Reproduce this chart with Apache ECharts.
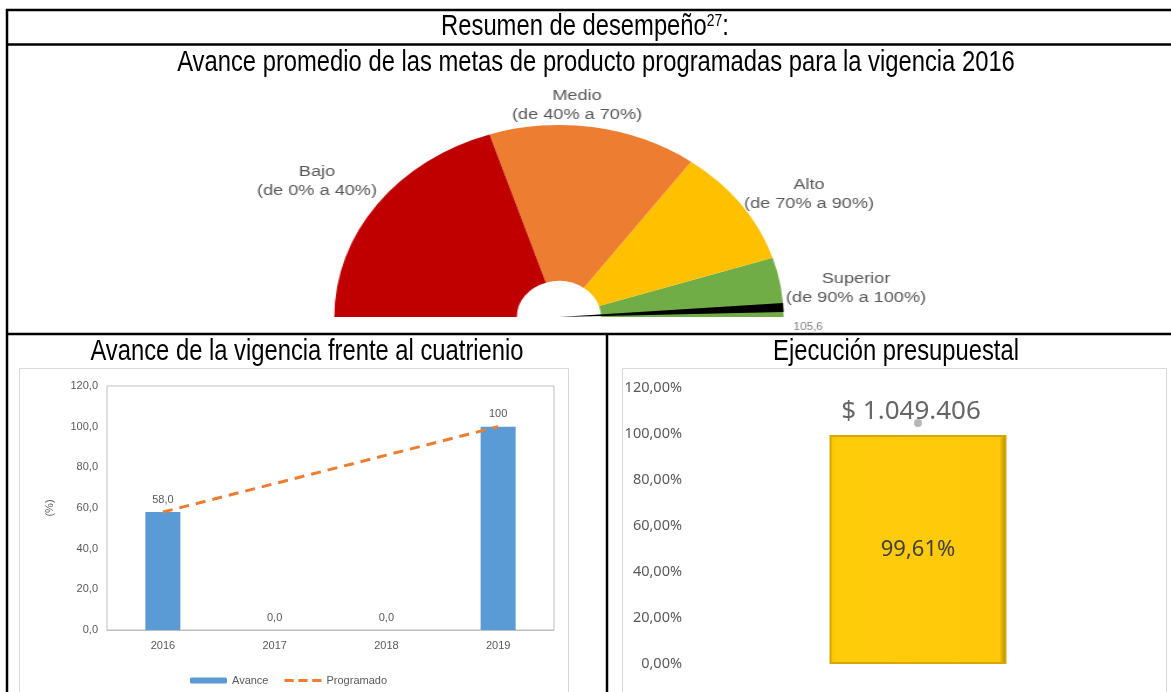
<!DOCTYPE html>
<html>
<head>
<meta charset="utf-8">
<script src="https://cdn.jsdelivr.net/npm/echarts@6/dist/echarts.min.js"></script>
<style>
  html, body { margin: 0; padding: 0; background: #fff; overflow: hidden; }
  #main { position: absolute; left: 0; top: 0; width: 1171px; height: 692px; }
  /* the source gauge is a stretched picture, so the gauge is stretched too */
  #gauge { position: absolute; left: 240px; top: 70px; width: 620px; height: 270px;
           transform: scaleX(1.17); transform-origin: 0 0; }
</style>
</head>
<body>
<div id="main"></div>
<div id="gauge"></div>
<script>
// --- gauge data
var bandNames = ['Bajo', 'Medio', 'Alto', 'Superior'];
var bandRanges = ['(de 0% a 40%)', '(de 40% a 70%)', '(de 70% a 90%)', '(de 90% a 100%)'];
var bandLimits = [40, 70, 90, 100];
var bandColors = ['#c00000', '#ed7d31', '#ffc000', '#70ad47'];
var needleValue = 105.6;
var needleScaleMax = 107.3; // needle scale of the source picture

// --- avance vigencia / cuatrienio
var years = ['2016', '2017', '2018', '2019'];
var avance = [58, 0, 0, 100];
var avanceLabels = ['58,0', '0,0', '0,0', '100'];
var programado = [58, 72, 86, 100];

// --- ejecucion presupuestal
var budgetCategory = ['Ejecución'];
var budgetPct = [99.61];
var budgetAmountLevel = [104.8];
var budgetAmountLabel = ['$ 1.049.406'];

var gray = '#595959';

function titleText(x, y, text) {
    return {
        type: 'text', x: x, y: y, scaleX: 0.82,
        style: {
            text: text, fontSize: 29, fontFamily: 'Liberation Sans', fill: '#000',
            align: 'center', verticalAlign: 'middle',
            rich: { s: { fontSize: 17, fontFamily: 'Liberation Sans', fill: '#000', verticalAlign: 'top' } }
        }
    };
}
function hLine(y, x1, x2) {
    return { type: 'line', shape: { x1: x1, y1: y, x2: x2, y2: y }, style: { stroke: '#000', lineWidth: 2.5 } };
}
function vLine(x, y1, y2) {
    return { type: 'line', shape: { x1: x, y1: y1, x2: x, y2: y2 }, style: { stroke: '#000', lineWidth: 2.5 } };
}

var main = echarts.init(document.getElementById('main'));
main.setOption({
    animation: false,
    textStyle: { fontFamily: 'Liberation Sans' },
    graphic: [
        hLine(10, 6, 1171), hLine(44.5, 6, 1171), hLine(334, 6, 1171),
        vLine(7, 9, 692), vLine(607, 333, 692),
        { type: 'rect', shape: { x: 19.5, y: 368.5, width: 549, height: 400 }, style: { fill: 'none', stroke: '#d9d9d9', lineWidth: 1 } },
        { type: 'rect', shape: { x: 622.5, y: 368.5, width: 544, height: 400 }, style: { fill: 'none', stroke: '#d9d9d9', lineWidth: 1 } },
        titleText(585, 27, 'Resumen de desempeño{s|27}:'),
        titleText(596, 63, 'Avance promedio de las metas de producto programadas para la vigencia 2016'),
        titleText(307, 352, 'Avance de la vigencia frente al cuatrienio'),
        titleText(896, 352, 'Ejecución presupuestal')
    ],
    legend: {
        data: [
            { name: 'Avance' },
            { name: 'Programado', icon: 'path://M0,0 H10 V3 H0 Z M15,0 H25 V3 H15 Z M30,0 H40 V3 H30 Z' }
        ],
        left: 185, top: 670,
        itemWidth: 37, itemHeight: 6, itemGap: 16,
        textStyle: { color: gray, fontSize: 11 }
    },
    grid: [
        { left: 107, top: 386, right: 617, bottom: 62, show: true, borderColor: '#bfbfbf', borderWidth: 1 },
        { left: 690, top: 388, right: 25, bottom: 28 }
    ],
    xAxis: [
        { gridIndex: 0, type: 'category', data: years, axisTick: { show: false },
          axisLine: { lineStyle: { color: '#bfbfbf' } },
          axisLabel: { color: gray, fontSize: 11, margin: 10 } },
        { gridIndex: 1, type: 'category', data: budgetCategory, show: false }
    ],
    yAxis: [
        { gridIndex: 0, type: 'value', min: 0, max: 120, interval: 20,
          name: '(%)', nameLocation: 'middle', nameGap: 52, nameRotate: 90,
          nameTextStyle: { color: gray, fontSize: 11 },
          axisLine: { show: false }, axisTick: { show: false }, splitLine: { show: false },
          axisLabel: { color: gray, fontSize: 11, margin: 9,
                       formatter: function (v) { return v.toFixed(1).replace('.', ','); } } },
        { gridIndex: 1, type: 'value', min: 0, max: 120, interval: 20,
          axisLine: { show: false }, axisTick: { show: false }, splitLine: { show: false },
          axisLabel: { color: gray, fontSize: 14.5, fontFamily: 'Noto Sans', margin: 8,
                       formatter: function (v) { return v.toFixed(2).replace('.', ',') + '%'; } } }
    ],
    series: [
        {
            name: 'Avance', type: 'bar', xAxisIndex: 0, yAxisIndex: 0,
            data: avance, barWidth: 35, itemStyle: { color: '#5b9bd5' },
            label: { show: true, position: 'top', distance: 7, color: gray, fontSize: 11,
                     formatter: function (p) { return avanceLabels[p.dataIndex]; } }
        },
        {
            name: 'Programado', type: 'line', xAxisIndex: 0, yAxisIndex: 0,
            data: programado, symbol: 'none', z: 3,
            itemStyle: { color: '#ed7d31' },
            lineStyle: { color: '#ed7d31', width: 3, type: [10, 7] }
        },
        {
            name: 'Ejecución', type: 'bar', xAxisIndex: 1, yAxisIndex: 1,
            data: budgetPct, barWidth: 177,
            itemStyle: {
                color: new echarts.graphic.LinearGradient(0, 0, 1, 0, [
                    { offset: 0, color: '#f5c000' }, { offset: 0.04, color: '#ffcc0a' },
                    { offset: 0.96, color: '#ffc90a' }, { offset: 1, color: '#a88300' }
                ]),
                borderColor: '#d6a800', borderWidth: 2
            },
            label: { show: true, position: 'inside', color: '#404040', fontSize: 22, fontFamily: 'Noto Sans',
                     formatter: function (p) { return p.value.toFixed(2).replace('.', ',') + '%'; } }
        },
        {
            name: 'Monto', type: 'scatter', xAxisIndex: 1, yAxisIndex: 1,
            data: budgetAmountLevel, symbolSize: 8, itemStyle: { color: '#a5a5a5' }, z: 4,
            label: { show: true, position: 'inside', offset: [-7, -11], color: '#404040',
                     fontSize: 26, fontFamily: 'Noto Sans',
                     formatter: function (p) { return budgetAmountLabel[p.dataIndex]; } }
        }
    ]
});

// --- gauge (drawn unscaled, stretched by css)
var cx = 272.6, cy = 247, outerR = 192, innerR = 36;
var bandStops = bandLimits.map(function (l, i) { return [l / 100, bandColors[i]]; });
var labelPos = [[65.8, 111], [288, 35], [486.3, 124], [526.5, 218]];

var gauge = echarts.init(document.getElementById('gauge'));
gauge.setOption({
    animation: false,
    graphic: bandNames.map(function (n, i) {
        return {
            type: 'text', x: labelPos[i][0], y: labelPos[i][1],
            style: { text: n + '\n' + bandRanges[i], fontSize: 15.5, fontFamily: 'Liberation Sans',
                     lineHeight: 19, fill: gray, align: 'center', verticalAlign: 'middle' }
        };
    }),
    series: [{
        type: 'gauge',
        center: [cx, cy], radius: outerR,
        startAngle: 180, endAngle: 0,
        min: 0, max: needleScaleMax,
        axisLine: { lineStyle: { width: outerR - innerR, color: bandStops } },
        axisTick: { show: false }, splitLine: { show: false }, axisLabel: { show: false },
        pointer: { icon: 'path://M0,0 L10,0 L5,100 Z', length: '100%', width: 9,
                   itemStyle: { color: '#000' } },
        anchor: { show: false },
        title: { show: false },
        detail: { offsetCenter: [213, 10], fontSize: 10, color: '#808080', fontWeight: 'normal',
                  formatter: function (v) { return v.toFixed(1).replace('.', ','); } },
        data: [{ value: needleValue }]
    }]
});
</script>
</body>
</html>
